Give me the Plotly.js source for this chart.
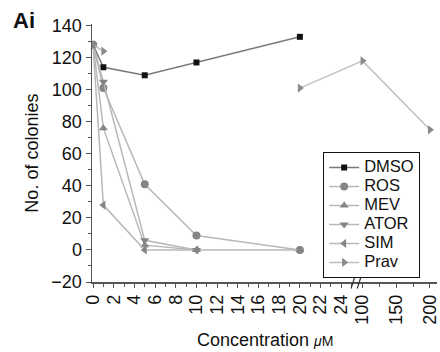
<!DOCTYPE html>
<html>
<head>
<meta charset="utf-8">
<script src="https://cdn.plot.ly/plotly-3.0.1.min.js"></script>
<style>html,body{margin:0;padding:0;background:#fff;}#chart{width:440px;height:352px;}</style>
</head>
<body>
<div id="chart"></div>
<script>
// Concentrations (µM)
const conc = [0, 1, 5, 10, 20, 100, 200];
// Number of colonies per series (null = not measured)
const DMSO = [128, 114, 109, 117, 133, null, null];
const ROS  = [128, 101, 41, 9, 0, null, null];
const MEV  = [128, 76, 3, 0, 0, null, null];
const ATOR = [128, 105, 6, 0, null, null, null];
const SIM  = [128, 28, 0, 0, null, null, null];
const Prav = [128, 124, null, null, 101, 118, 75];
const seriesNames = ['DMSO', 'ROS', 'MEV', 'ATOR', 'SIM', 'Prav'];
const seriesData = [DMSO, ROS, MEV, ATOR, SIM, Prav];
// Tick labels
const lowTicks = [0, 2, 4, 6, 8, 10, 12, 14, 16, 18, 20, 22, 24];
const highTicks = [100, 150, 200];
const yTicks = [-20, 0, 20, 40, 60, 80, 100, 120, 140];

// Broken axis scale: 0–25 linear, then 100–200 compressed after the break
const BREAK = 25.4;
function bx(v) { return v <= 25 ? v : 26.06 + (v - 100) * 0.0652; }

const symbols = ['square', 'circle', 'triangle-up', 'triangle-down', 'triangle-left', 'triangle-right'];
const msize = [6, 8, 8, 8, 8, 8];
const mcolor = ['#111111', '#858585', '#858585', '#858585', '#858585', '#8a8a8a'];
const lcolor = ['#7a7a7a', '#b8b8b8', '#b8b8b8', '#b8b8b8', '#b8b8b8', '#c0c0c0'];

const traces = seriesNames.map((n, i) => ({
  x: conc.map(bx), y: seriesData[i], type: 'scatter', mode: 'lines+markers',
  name: '<span style="font-size:16.5px">' + n + '</span>',
  connectgaps: false,
  line: {color: lcolor[i], width: 1.5},
  marker: {symbol: symbols[i], size: msize[i], color: mcolor[i]}
}));

const minorLow = [];
for (let v = 0; v <= 25; v++) minorLow.push(v);
const minorHigh = [100, 125, 150, 175, 200];

const FS = 18;
const font = {family: 'Liberation Sans, Arial, sans-serif', size: FS, color: '#111'};
const layout = {
  width: 440, height: 352,
  margin: {l: 92, r: 3, t: 24, b: 70},
  paper_bgcolor: '#fff', plot_bgcolor: '#fff',
  font: font,
  showlegend: true,
  legend: {x: 0.67, y: 0.504, xanchor: 'left', yanchor: 'top', bgcolor: '#fff',
           bordercolor: '#111', borderwidth: 1, font: {size: 12, color: '#111'},
           tracegroupgap: 0, itemwidth: 30, entrywidth: 92},
  xaxis: {
    range: [-0.1, 33.26], showgrid: false, zeroline: false,
    showline: true, linecolor: '#555', linewidth: 1.5,
    tickmode: 'array',
    tickvals: lowTicks.map(bx).concat(highTicks.map(bx)),
    ticktext: lowTicks.map(String).concat(highTicks.map(String)),
    tickangle: -90, ticks: 'outside', ticklen: 4, tickcolor: '#555',
    minor: {tickmode: 'array', tickvals: minorLow.map(bx).concat(minorHigh.map(bx)), ticks: 'outside', ticklen: 3, tickcolor: '#555'},
    tickfont: {size: FS, color: '#111'}
  },
  yaxis: {
    range: [-20, 141], showgrid: false, zeroline: false,
    showline: true, linecolor: '#555', linewidth: 1.5,
    tickmode: 'array', tickvals: yTicks, ticks: 'outside', ticklen: 5, tickcolor: '#555',
    minor: {dtick: 10, tick0: 0, ticks: 'outside', ticklen: 3, tickcolor: '#555'},
    tickfont: {size: FS, color: '#111'}
  },
  shapes: [
    {type: 'line', xref: 'x', yref: 'paper', x0: BREAK - 0.45, x1: BREAK - 0.05, y0: -0.025, y1: 0.025, line: {color: '#333', width: 1.2}},
    {type: 'line', xref: 'x', yref: 'paper', x0: BREAK + 0.15, x1: BREAK + 0.55, y0: -0.025, y1: 0.025, line: {color: '#333', width: 1.2}}
  ],
  annotations: [
    {text: '<b>Ai</b>', xref: 'paper', yref: 'paper', x: -0.235, y: 1.07, xanchor: 'left', yanchor: 'top',
     showarrow: false, font: {size: 22, color: '#111'}},
    {text: 'Concentration <span style="font-size:14px"><i>μ</i>M</span>', xref: 'paper', yref: 'paper',
     x: 0.5, y: -0.225, xanchor: 'center', yanchor: 'middle', showarrow: false, font: {size: FS, color: '#111'}},
    {text: 'No. of colonies', xref: 'paper', yref: 'paper', textangle: -90,
     x: -0.175, y: 0.5, xanchor: 'center', yanchor: 'middle', showarrow: false, font: {size: FS, color: '#111'}}
  ]
};
Plotly.newPlot('chart', traces, layout, {displayModeBar: false, staticPlot: true});
</script>
</body>
</html>
